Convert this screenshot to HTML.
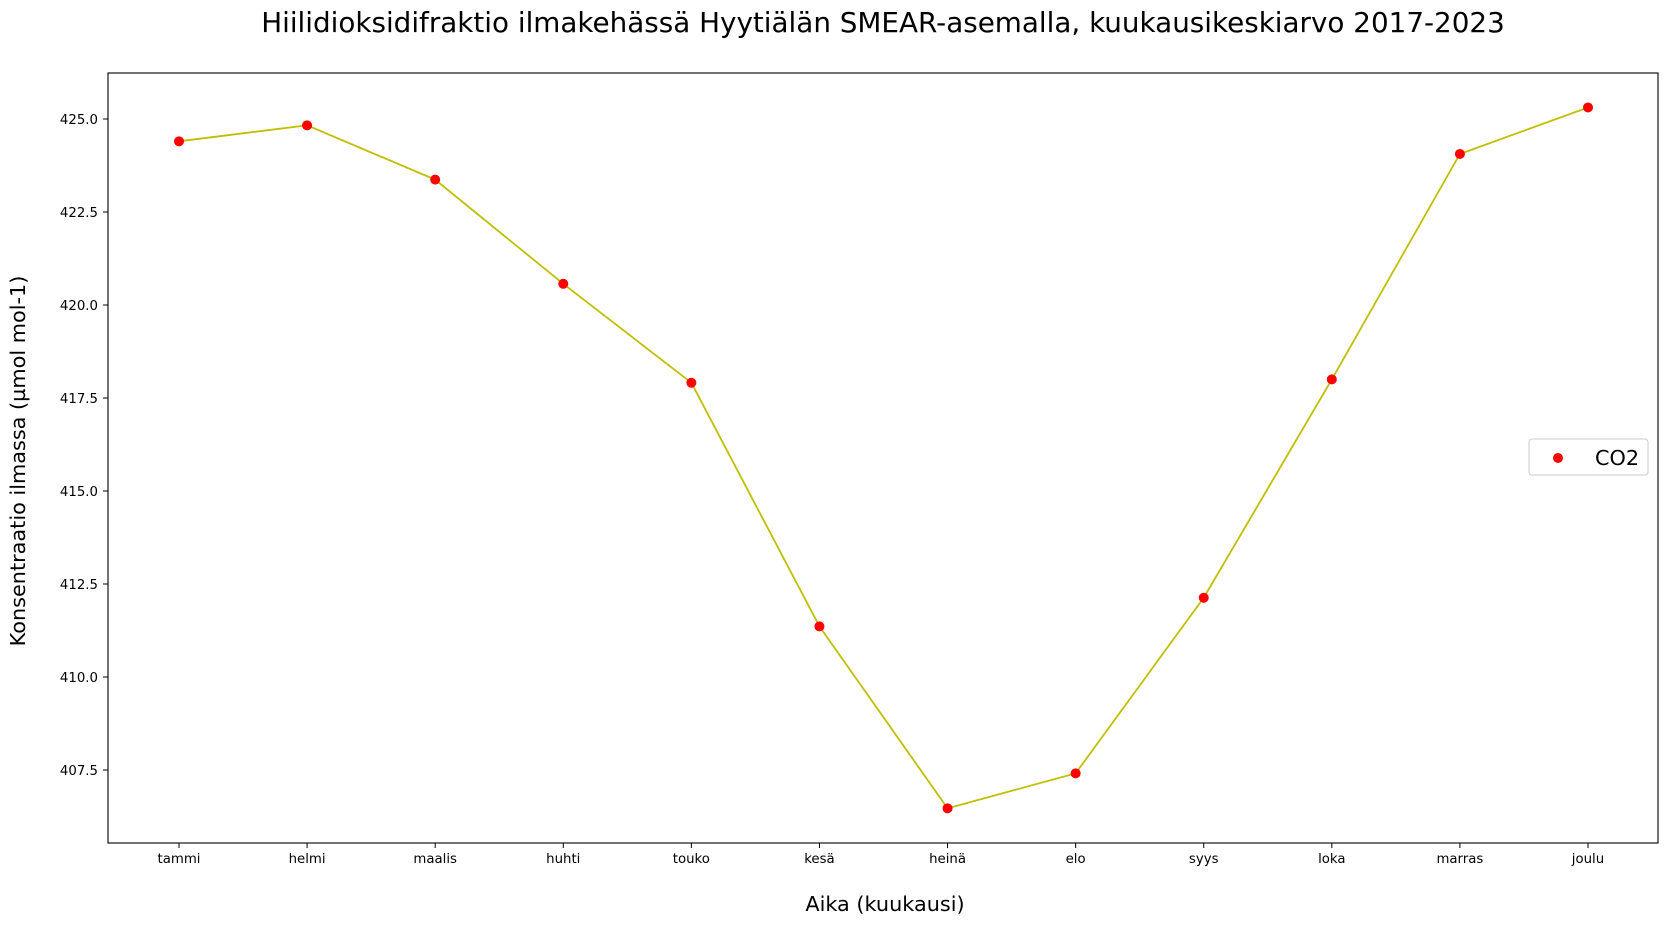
<!DOCTYPE html>
<html><head><meta charset="utf-8"><style>
body{margin:0;background:#fff;}
svg text{font-family:"DejaVu Sans","Liberation Sans",sans-serif;}
</style></head><body>
<svg id="chart" width="1667" height="925" xmlns="http://www.w3.org/2000/svg">
<text x="883" y="32" text-anchor="middle" font-size="27.8">Hiilidioksidifraktio ilmakehässä Hyytiälän SMEAR-asemalla, kuukausikeskiarvo 2017-2023</text>
<rect x="108" y="73" width="1550" height="770" fill="none" stroke="#000" stroke-width="1.1"/>
<g id="xticks"></g>
<g id="yticks"></g>
<g id="series"></g>
<text x="885" y="911" text-anchor="middle" font-size="20.8">Aika (kuukausi)</text>
<text transform="translate(25,461) rotate(-90)" text-anchor="middle" font-size="20.8">Konsentraatio ilmassa (µmol mol-1)</text>
<g>
<rect x="1529" y="439" width="119" height="36" rx="3" fill="#fff" stroke="#ccc"/>
<circle cx="1558" cy="458" r="5" fill="red"/>
<text x="1595" y="465" font-size="20.8">CO2</text>
</g>
</svg>
<script>
const months=["tammi","helmi","maalis","huhti","touko","kesä","heinä","elo","syys","loka","marras","joulu"];
const co2=[424.40,424.83,423.37,420.57,417.91,411.36,406.47,407.41,412.13,418.00,424.06,425.31];
const yTicks=[407.5,410.0,412.5,415.0,417.5,420.0,422.5,425.0];
const NS="http://www.w3.org/2000/svg";
function xs(i){return 179+i*(1588-179)/11;}
function ys(v){return 119+(425-v)*651/17.5;}
function mk(t,a,p){const e=document.createElementNS(NS,t);for(const k in a)e.setAttribute(k,a[k]);p.appendChild(e);return e;}
const gx=document.getElementById('xticks'),gy=document.getElementById('yticks'),gs=document.getElementById('series');
months.forEach((m,i)=>{
 const l=mk('line',{x1:xs(i),x2:xs(i),y1:843,y2:848,stroke:'#000'},gx);
 
 
 const t=mk('text',{x:xs(i),y:863,'text-anchor':'middle','font-size':13.3},gx);t.textContent=m;
 
 
});
yTicks.forEach(v=>{
 const l=mk('line',{x1:103,x2:108,y1:ys(v),y2:ys(v),stroke:'#000'},gy);
 
 
 const t=mk('text',{x:98,y:ys(v)+5,'text-anchor':'end','font-size':13.3},gy);t.textContent=v.toFixed(1);
 
 
});
const p=mk('polyline',{points:co2.map((v,i)=>xs(i)+','+ys(v)).join(' '),fill:'none',stroke:'#bfbf00','stroke-width':1.8},gs);


co2.forEach((v,i)=>{
 const c=mk('circle',{cx:xs(i),cy:ys(v),r:5,fill:'red'},gs);
 
 
});
</script>
</body></html>
